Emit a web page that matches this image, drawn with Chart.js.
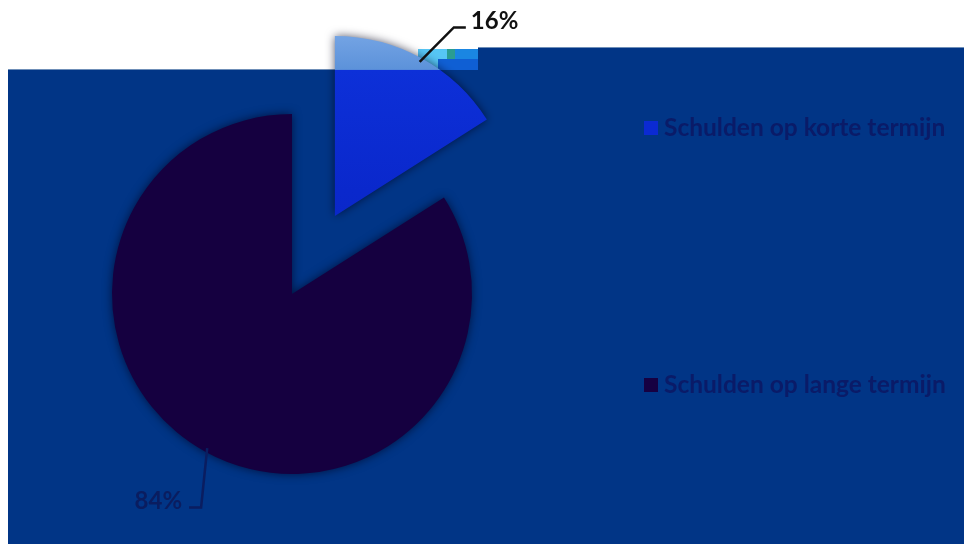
<!DOCTYPE html>
<html>
<head>
<meta charset="utf-8">
<script src="https://cdn.jsdelivr.net/npm/chart.js@4.4.1/dist/chart.umd.min.js"></script>
<style>
  html, body { margin: 0; padding: 0; background: #ffffff; }
  #wrap { width: 964px; height: 544px; position: relative; }
</style>
</head>
<body>
<div id="wrap"><canvas id="grafico"></canvas></div>
<script>
// Verdeling van de schulden
const categorieen = ["Schulden op korte termijn", "Schulden op lange termijn"];
const percentages = [16, 84];
const kleurenLegenda = ["#0b2ad2", "#160042"];

const UITGESCHOVEN = 89; // hoeveel px het eerste stuk uit de taart schuift
const BAND_Y = 70;       // bovenrand van de blauwe band

// achtergrond: witte pagina met de donkerblauwe band eroverheen
const achtergrondPlugin = {
    id: "achtergrond",
    beforeDraw(chart) {
        const ctx = chart.ctx;
        const w = chart.width, h = chart.height;
        ctx.save();
        ctx.fillStyle = "#ffffff";
        ctx.fillRect(0, 0, w, h);
        ctx.fillStyle = "#013586";
        ctx.fillRect(8, BAND_Y, w - 8, h - BAND_Y);
        ctx.fillRect(478, 48, w - 478, BAND_Y - 48);
        // dunne lichte rand bovenaan
        ctx.fillStyle = "#6f8fb8";
        ctx.fillRect(8, BAND_Y - 1, 470, 1);
        ctx.fillRect(478, 47, w - 478, 1);
        // storingsblokjes naast het label
        ctx.fillStyle = "#56c6f4";
        ctx.fillRect(418, 49, 30, 21);
        ctx.fillStyle = "#2a9c92";
        ctx.fillRect(447, 49, 8, 21);
        ctx.fillStyle = "#1a86e2";
        ctx.fillRect(455, 49, 23, 10);
        ctx.fillStyle = "#0f5fd4";
        ctx.fillRect(438, 59, 40, 11);
        ctx.restore();
    }
};

// eerste stuk uit de taart schuiven langs de middellijn
const uitschuifPlugin = {
    id: "uitschuif",
    afterDatasetsUpdate(chart) {
        const arc = chart.getDatasetMeta(0).data[0];
        const mid = (arc.startAngle + arc.endAngle) / 2;
        arc.x += Math.cos(mid) * UITGESCHOVEN;
        arc.y += Math.sin(mid) * UITGESCHOVEN;
    },
    beforeDatasetsDraw(chart) {
        const ctx = chart.ctx;
        ctx.save();
        ctx.shadowColor = "rgba(0, 0, 25, 0.65)";
        ctx.shadowBlur = 10;
    },
    afterDatasetsDraw(chart) {
        chart.ctx.restore();
    }
};

// percentages met verbindingslijntjes
const labelPlugin = {
    id: "labels",
    afterDatasetsDraw(chart) {
        const ctx = chart.ctx;
        const meta = chart.getDatasetMeta(0);
        ctx.save();
        ctx.font = "bold 24px Lato, 'Open Sans', sans-serif";
        ctx.textBaseline = "middle";
        ctx.lineWidth = 2.5;
        meta.data.forEach((arc, i) => {
            const mid = (arc.startAngle + arc.endAngle) / 2;
            const r = arc.outerRadius;
            const rechts = Math.cos(mid) >= 0;
            const sx = arc.x + Math.cos(mid) * (r - 4);
            const sy = arc.y + Math.sin(mid) * (r - 4);
            const hoek = mid + (rechts ? 0.06 : -0.1);
            const lengte = r + (rechts ? 43 : 52);
            const ex = arc.x + Math.cos(hoek) * lengte;
            const ey = arc.y + Math.sin(hoek) * lengte;
            const tx = ex + (rechts ? 12 : -12);
            const kleur = ey < BAND_Y ? "#111111" : "#0a1d60";
            ctx.strokeStyle = kleur;
            ctx.fillStyle = kleur;
            ctx.beginPath();
            ctx.moveTo(sx, sy);
            ctx.lineTo(ex, ey);
            ctx.lineTo(tx, ey);
            ctx.stroke();
            ctx.textAlign = rechts ? "left" : "right";
            ctx.fillText(percentages[i] + "%", tx + (rechts ? 5 : -7), ey - 6);
        });
        ctx.restore();
    }
};

// legenda rechts, items ver uit elkaar
const legendaPlugin = {
    id: "legenda",
    afterDraw(chart) {
        const ctx = chart.ctx;
        const posY = [128, 385];
        ctx.save();
        ctx.font = "bold 24.5px Lato, 'Open Sans', sans-serif";
        ctx.textBaseline = "middle";
        ctx.textAlign = "left";
        chart.data.labels.forEach((label, i) => {
            ctx.fillStyle = kleurenLegenda[i];
            ctx.fillRect(644, posY[i] - 7, 14, 14);
            ctx.fillStyle = "#0a1b68";
            ctx.fillText(label, 664, posY[i]);
        });
        ctx.restore();
    }
};

// kleur per stuk: het korte stuk krijgt een verloop met harde overgang bij de band
function stukKleur(context) {
    if (context.dataIndex !== 0) return "#150040";
    const chart = context.chart;
    const g = chart.ctx.createLinearGradient(0, 0, 0, chart.height);
    const stop = BAND_Y / chart.height;
    g.addColorStop(0, "#8cb6ee");
    g.addColorStop(stop - 0.001, "#5c92da");
    g.addColorStop(stop, "#0d30d8");
    g.addColorStop(0.35, "#0a28cc");
    g.addColorStop(1, "#0820b0");
    return g;
}

const ctx = document.getElementById("grafico").getContext("2d");
new Chart(ctx, {
    type: "pie",
    data: {
        labels: categorieen,
        datasets: [{
            data: percentages,
            backgroundColor: stukKleur,
            borderWidth: 0,
            radius: 180
        }]
    },
    options: {
        responsive: true,
        maintainAspectRatio: false,
        animation: false,
        events: [],
        layout: { padding: { left: 0, right: 380, top: 44, bottom: 0 } },
        plugins: {
            legend: { display: false },
            tooltip: { enabled: false }
        }
    },
    plugins: [achtergrondPlugin, uitschuifPlugin, labelPlugin, legendaPlugin]
});
</script>
</body>
</html>
